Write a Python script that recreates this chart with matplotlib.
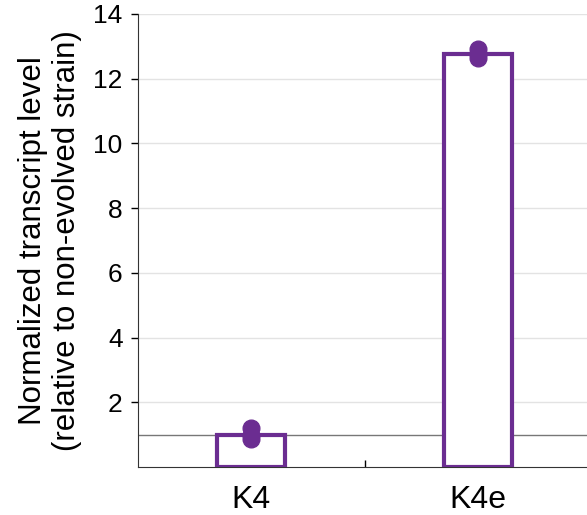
import matplotlib.pyplot as plt

plt.rcParams['font.family'] = ['Liberation Sans', 'DejaVu Sans']

# data
strains = ["K4", "K4e"]
means = [1.0, 12.77]
replicates = [[1.22, 1.0, 0.87], [12.92, 12.76, 12.64]]
yticks = [2, 4, 6, 8, 10, 12, 14]

purple = "#6b2d91"

fig = plt.figure(figsize=(5.87, 5.15), dpi=100)
ax = fig.add_axes([0.235, 0.093, 0.765, 0.88])

x = list(range(len(strains)))
ax.bar(x, means, width=0.3, facecolor="white", edgecolor=purple, linewidth=3, zorder=3)
for xi, reps in zip(x, replicates):
    ax.plot([xi] * len(reps), reps, "o", color=purple, markersize=12, zorder=4)

ax.axhline(1, color="#777777", linewidth=1, zorder=2)

ax.set_xlim(-0.5, 1.48)
ax.set_ylim(0, 14)
ax.set_yticks(yticks)
ax.yaxis.grid(True, color="#e3e3e3", linewidth=1, zorder=0)
ax.set_axisbelow(True)

ax.set_xticks(x)
ax.set_xticklabels(strains, fontsize=23)
ax.set_xticks([0.5], minor=True)
ax.tick_params(axis="x", direction="in", length=5, width=1, pad=13)
ax.tick_params(axis="x", which="minor", direction="in", length=5, width=1)
ax.tick_params(axis="y", direction="out", length=5, width=1, labelsize=19, pad=6)

ax.spines["top"].set_visible(False)
ax.spines["right"].set_visible(False)
ax.spines["left"].set_color("#333333")
ax.spines["bottom"].set_color("#333333")

ax.set_ylabel("Normalized transcript level\n(relative to non-evolved strain)", fontsize=22.5, labelpad=8)

fig.savefig("out.png", dpi=100)
